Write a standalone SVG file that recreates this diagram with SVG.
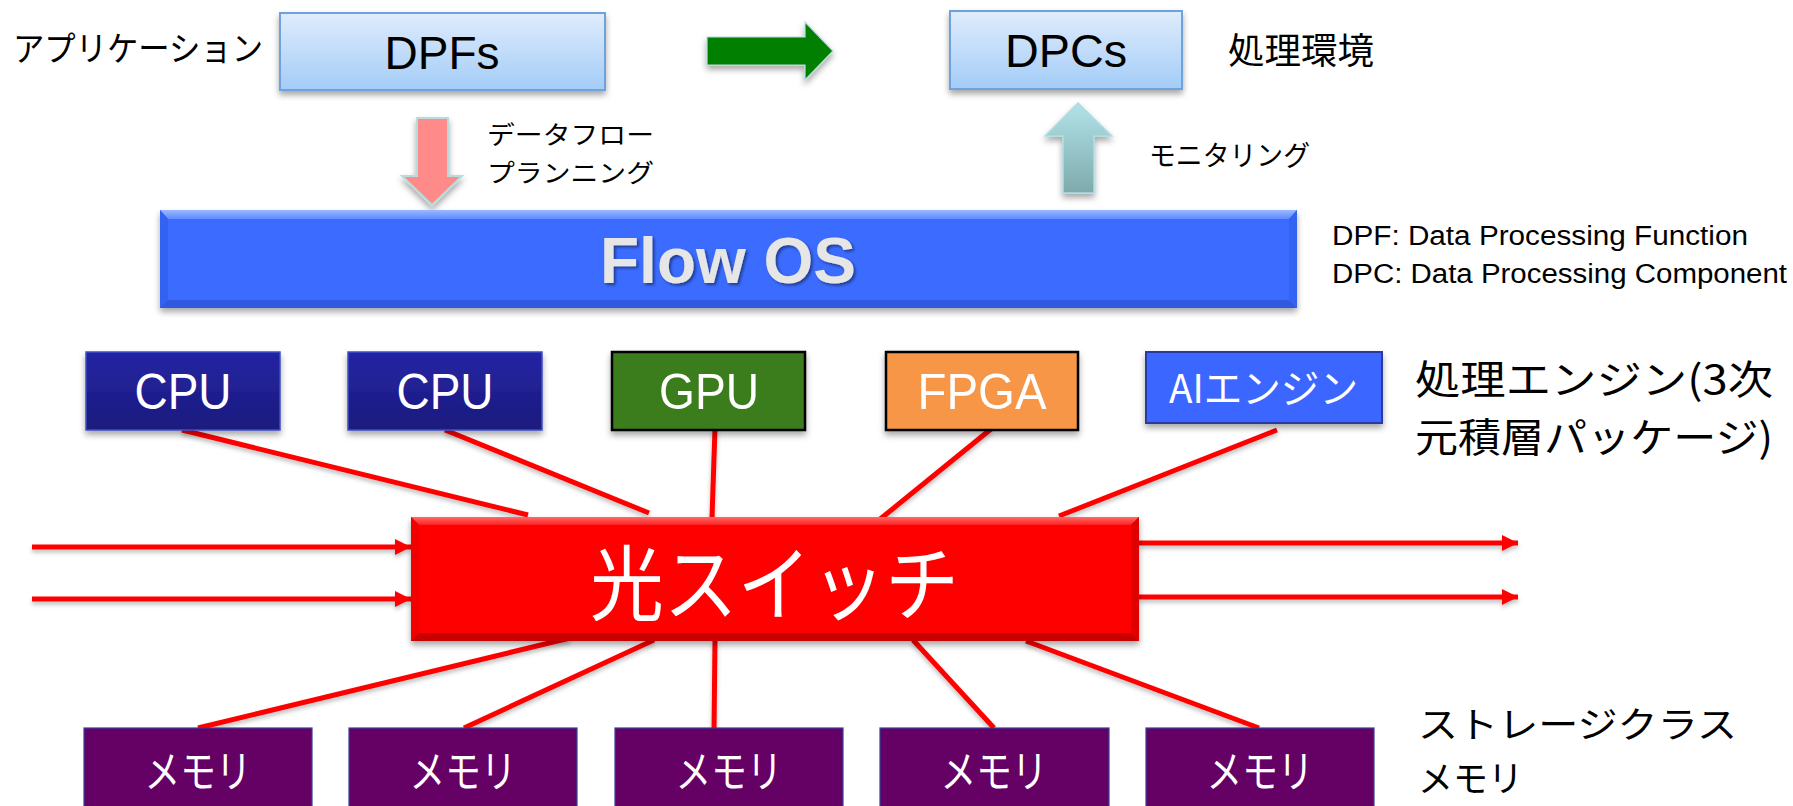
<svg xmlns="http://www.w3.org/2000/svg" width="1793" height="806" viewBox="0 0 1793 806">
  <defs>
    <filter id="shadow" x="-10%" y="-20%" width="120%" height="150%">
      <feDropShadow dx="0" dy="4" stdDeviation="3" flood-color="#000" flood-opacity="0.35"/>
    </filter>
    <filter id="lineShadow" x="-5%" y="-20%" width="110%" height="140%">
      <feDropShadow dx="0" dy="3" stdDeviation="2" flood-color="#000" flood-opacity="0.25"/>
    </filter>
    <filter id="textShadow" x="-10%" y="-20%" width="120%" height="150%">
      <feDropShadow dx="2" dy="2" stdDeviation="1.5" flood-color="#000" flood-opacity="0.45"/>
    </filter>
    <linearGradient id="dpBox" x1="0" y1="0" x2="0" y2="1">
      <stop offset="0" stop-color="#e0ecfc"/>
      <stop offset="1" stop-color="#a3ccf7"/>
    </linearGradient>
    <linearGradient id="cpuFill" x1="0" y1="0" x2="0" y2="1">
      <stop offset="0" stop-color="#2424a4"/>
      <stop offset="1" stop-color="#1b1b7e"/>
    </linearGradient>
    <linearGradient id="monitorFill" x1="0" y1="0" x2="0" y2="1">
      <stop offset="0" stop-color="#b2e2e8"/>
      <stop offset="1" stop-color="#7eaaac"/>
    </linearGradient>
    <linearGradient id="blueTop" x1="0" y1="0" x2="0" y2="1">
      <stop offset="0" stop-color="#9cb8ff"/>
      <stop offset="1" stop-color="#5f8aff"/>
    </linearGradient>
    <linearGradient id="redTop" x1="0" y1="0" x2="0" y2="1">
      <stop offset="0" stop-color="#ff6a6a"/>
      <stop offset="1" stop-color="#ff2020"/>
    </linearGradient>
    <marker id="arrowHead" viewBox="0 0 16 16" refX="16" refY="8" markerWidth="16" markerHeight="16" markerUnits="userSpaceOnUse" orient="auto">
      <path d="M0,0 L16,8 L0,16 Z" fill="#ff0000"/>
    </marker>
    <style>
      .jp { font-family: "Noto Sans CJK JP", "Noto Sans", sans-serif; }
      .lat { font-family: "Liberation Sans", Arial, sans-serif; }
      .label { fill: #000; }
      .white { fill: #fff; }
      .mid { text-anchor: middle; }
      .link { stroke: #ff0000; stroke-width: 5; fill: none; }
      .dpbox { fill: url(#dpBox); stroke: #6ea2dc; stroke-width: 2; }
      .cpu { fill: url(#cpuFill); stroke: #3d4fc2; stroke-width: 1.5; }
      .mem { fill: #650065; stroke: #34409a; stroke-width: 1.2; }
    </style>
  </defs>

  <rect width="1793" height="806" fill="#ffffff"/>

  <!-- application layer -->
  <text class="jp label" x="13" y="61" font-size="34" textLength="250" lengthAdjust="spacingAndGlyphs">アプリケーション</text>
  <g id="dpfs">
    <rect class="dpbox" x="280" y="13" width="325" height="77" filter="url(#shadow)"/>
    <text class="lat mid" x="442" y="69" font-size="47" fill="#000" textLength="115" lengthAdjust="spacingAndGlyphs">DPFs</text>
  </g>

  <!-- translation arrow -->
  <g id="transform-arrow">
    <polygon points="707,37 805,37 805,22 833,51 805,80 805,65 707,65" fill="#007f00" stroke="#b6dcdc" stroke-width="1.2" filter="url(#shadow)"/>
  </g>

  <g id="dpcs">
    <rect class="dpbox" x="950" y="11" width="232" height="78" filter="url(#shadow)"/>
    <text class="lat mid" x="1066" y="67" font-size="47" fill="#000" textLength="122" lengthAdjust="spacingAndGlyphs">DPCs</text>
  </g>
  <text class="jp label" x="1228" y="64" font-size="36" textLength="146" lengthAdjust="spacingAndGlyphs">処理環境</text>

  <!-- planning / monitoring arrows -->
  <g id="planning-arrow">
    <polygon points="417,118 448,118 448,176 462,176 432,205 402,176 417,176" fill="#ff8a8a" stroke="#b8dcdc" stroke-width="2" filter="url(#shadow)"/>
  </g>
  <text class="jp label" x="487" y="144" font-size="25" textLength="167" lengthAdjust="spacingAndGlyphs">データフロー</text>
  <text class="jp label" x="487" y="182" font-size="25" textLength="167" lengthAdjust="spacingAndGlyphs">プランニング</text>

  <g id="monitoring-arrow">
    <polygon points="1078,103 1112,136 1094,136 1094,193 1063,193 1063,136 1045,136" fill="url(#monitorFill)" stroke="#b0dde2" stroke-width="1.5" filter="url(#shadow)"/>
  </g>
  <text class="jp label" x="1149" y="166" font-size="28" textLength="161" lengthAdjust="spacingAndGlyphs">モニタリング</text>

  <!-- Flow OS bar with bevel -->
  <g id="flow-os">
    <rect x="160" y="210" width="1137" height="98" fill="#3a6cff" filter="url(#shadow)"/>
    <polygon points="160,210 1297,210 1289,219 168,219" fill="url(#blueTop)"/>
    <polygon points="160,210 168,219 168,300 160,308" fill="#3462f0"/>
    <polygon points="160,308 168,300 1289,300 1297,308" fill="#3059e0"/>
    <polygon points="1297,210 1289,219 1289,300 1297,308" fill="#3463f2"/>
    <text class="lat mid" x="728" y="283" font-size="64" font-weight="bold" fill="#e6e6e6" filter="url(#textShadow)">Flow OS</text>
  </g>

  <text class="lat label" x="1332" y="245" font-size="27" textLength="416" lengthAdjust="spacingAndGlyphs">DPF: Data Processing Function</text>
  <text class="lat label" x="1332" y="283" font-size="27" textLength="455" lengthAdjust="spacingAndGlyphs">DPC: Data Processing Component</text>

  <!-- connectors -->
  <g id="connectors" filter="url(#lineShadow)">
    <line class="link" x1="182" y1="430" x2="528" y2="515"/>
    <line class="link" x1="445" y1="430" x2="649" y2="513"/>
    <line class="link" x1="715" y1="428" x2="712" y2="518"/>
    <line class="link" x1="991" y1="429" x2="879" y2="520"/>
    <line class="link" x1="1277" y1="430" x2="1059" y2="516"/>
    <line class="link" x1="570" y1="638" x2="198" y2="728"/>
    <line class="link" x1="654" y1="640" x2="464" y2="728"/>
    <line class="link" x1="715" y1="640" x2="714" y2="731"/>
    <line class="link" x1="913" y1="640" x2="994" y2="728"/>
    <line class="link" x1="1026" y1="641" x2="1259" y2="728"/>
    <line class="link" stroke-width="4.5" x1="32" y1="547" x2="411" y2="547" marker-end="url(#arrowHead)"/>
    <line class="link" stroke-width="4.5" x1="32" y1="599" x2="411" y2="599" marker-end="url(#arrowHead)"/>
    <line class="link" stroke-width="4.5" x1="1139" y1="543" x2="1518" y2="543" marker-end="url(#arrowHead)"/>
    <line class="link" stroke-width="4.5" x1="1139" y1="597" x2="1518" y2="597" marker-end="url(#arrowHead)"/>
  </g>

  <!-- processing engines -->
  <g id="cpu1">
    <rect class="cpu" x="86" y="352" width="194" height="78" filter="url(#shadow)"/>
    <text class="lat mid white" x="183" y="409" font-size="50" textLength="97" lengthAdjust="spacingAndGlyphs">CPU</text>
  </g>
  <g id="cpu2">
    <rect class="cpu" x="348" y="352" width="194" height="78" filter="url(#shadow)"/>
    <text class="lat mid white" x="445" y="409" font-size="50" textLength="97" lengthAdjust="spacingAndGlyphs">CPU</text>
  </g>
  <g id="gpu">
    <rect x="612" y="352" width="193" height="78" fill="#3b7d1b" stroke="#000" stroke-width="2.5" filter="url(#shadow)"/>
    <text class="lat mid white" x="709" y="409" font-size="50" textLength="100" lengthAdjust="spacingAndGlyphs">GPU</text>
  </g>
  <g id="fpga">
    <rect x="886" y="352" width="192" height="78" fill="#f79646" stroke="#000" stroke-width="2.5" filter="url(#shadow)"/>
    <text class="lat mid white" x="982" y="409" font-size="50" textLength="129" lengthAdjust="spacingAndGlyphs">FPGA</text>
  </g>
  <g id="ai-engine">
    <rect x="1146" y="352" width="236" height="71" fill="#3a66ff" stroke="#2b3aa0" stroke-width="2" filter="url(#shadow)"/>
    <text class="jp white" x="1169" y="403" font-size="40" textLength="189" lengthAdjust="spacingAndGlyphs">AIエンジン</text>
  </g>
  <text class="jp label" x="1415" y="394" font-size="40" textLength="358" lengthAdjust="spacingAndGlyphs">処理エンジン(3次</text>
  <text class="jp label" x="1415" y="452" font-size="40" textLength="358" lengthAdjust="spacingAndGlyphs">元積層パッケージ)</text>

  <!-- optical switch -->
  <g id="optical-switch">
    <rect x="411" y="517" width="728" height="124" fill="#ff0000" filter="url(#shadow)"/>
    <polygon points="411,517 1139,517 1131,525 419,525" fill="url(#redTop)"/>
    <polygon points="411,517 419,525 419,633 411,641" fill="#f20000"/>
    <polygon points="411,641 419,633 1131,633 1139,641" fill="#c80000"/>
    <polygon points="1139,517 1131,525 1131,633 1139,641" fill="#e00000"/>
    <text class="jp white" x="590" y="614" font-size="82" textLength="369" lengthAdjust="spacingAndGlyphs">光スイッチ</text>
  </g>

  <!-- storage class memory -->
  <g id="mem1">
    <rect class="mem" x="84" y="728" width="228" height="92"/>
    <text class="jp mid white" x="198" y="788" font-size="44" textLength="107" lengthAdjust="spacingAndGlyphs">メモリ</text>
  </g>
  <g id="mem2">
    <rect class="mem" x="349" y="728" width="228" height="92"/>
    <text class="jp mid white" x="463" y="788" font-size="44" textLength="107" lengthAdjust="spacingAndGlyphs">メモリ</text>
  </g>
  <g id="mem3">
    <rect class="mem" x="615" y="728" width="228" height="92"/>
    <text class="jp mid white" x="729" y="788" font-size="44" textLength="107" lengthAdjust="spacingAndGlyphs">メモリ</text>
  </g>
  <g id="mem4">
    <rect class="mem" x="880" y="728" width="229" height="92"/>
    <text class="jp mid white" x="994" y="788" font-size="44" textLength="107" lengthAdjust="spacingAndGlyphs">メモリ</text>
  </g>
  <g id="mem5">
    <rect class="mem" x="1146" y="728" width="228" height="92"/>
    <text class="jp mid white" x="1260" y="788" font-size="44" textLength="107" lengthAdjust="spacingAndGlyphs">メモリ</text>
  </g>
  <text class="jp label" x="1418" y="738" font-size="36" textLength="319" lengthAdjust="spacingAndGlyphs">ストレージクラス</text>
  <text class="jp label" x="1418" y="792" font-size="36" textLength="105" lengthAdjust="spacingAndGlyphs">メモリ</text>
</svg>
